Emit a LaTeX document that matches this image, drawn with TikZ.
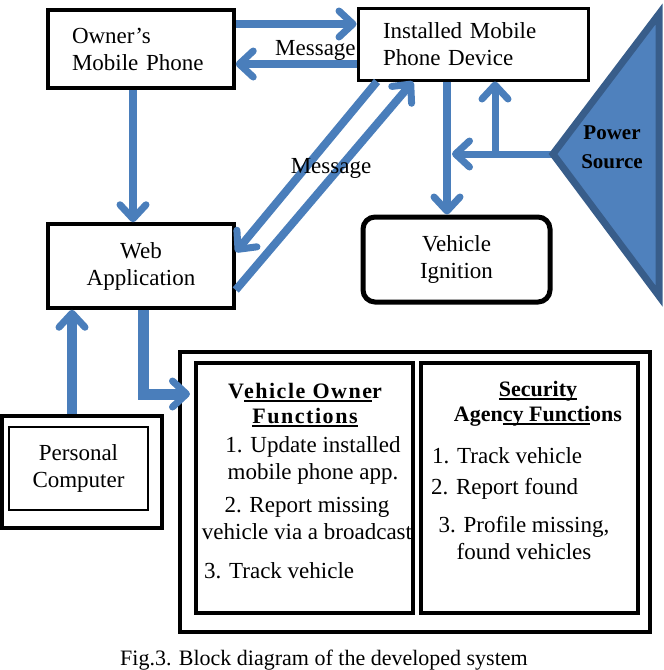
\documentclass[tikz,border=0pt]{standalone}
\usepackage{fontspec}
\setmainfont{Liberation Serif}
\usepackage{xcolor}
\usepackage{tikz}
\usetikzlibrary{arrows.meta}
\definecolor{arrblue}{HTML}{4A7EBB}
\definecolor{pwrfill}{HTML}{4F81BD}
\definecolor{pwrline}{HTML}{385D8A}
\newcommand\uln[1]{\setbox0\hbox{#1}\rlap{\rule[-3pt]{\wd0}{1.5pt}}\box0}

\begin{document}
\begin{tikzpicture}[x=1pt, y=-1pt, font=\fontsize{23}{27}\selectfont]
  \tikzstyle{blk}=[draw, line width=3.5pt, inner sep=0pt, align=center]
  \tikzstyle{lbl}=[inner sep=0pt, align=center]
  \tikzstyle{ttl}=[inner sep=0pt, align=center, font=\fontsize{22}{25}\selectfont\bfseries]
  \tikzstyle{arr}=[draw=arrblue, line width=8pt, -{Straight Barb[length=14pt,width=26pt,line width=7pt,round]}]
\useasboundingbox (0,0) rectangle (664,670);

% upper row
\node[blk, minimum width=186pt, minimum height=78pt, text width=138pt, align=left] (owner) at (141,49) {Owner’s\\Mobile Phone};
\node[blk, line width=3pt, minimum width=230pt, minimum height=72pt, text width=180pt, align=left] (inst) at (473,44) {Installed Mobile\\Phone Device};
\node[blk, minimum width=186pt, minimum height=84pt] (web) at (141,266) {Web\\Application};
\node[blk, line width=5pt, rounded corners=12pt, minimum width=187pt, minimum height=85pt] (ign) at (456.5,259.5) {Vehicle\\Ignition};

% power source
\coordinate (pwr) at (553,154);
\coordinate (jn) at (452,154);
\coordinate (br) at (495,154);
\draw[arr, line width=7pt] (pwr) -- (jn);
\draw[arr, line width=7pt] (br) -- (495,0 |- inst.south);
\filldraw[fill=pwrfill, draw=pwrline, line width=7pt] (pwr) -- (659,14) -- (659,296) -- cycle;
\node[ttl, font=\fontsize{21}{29}\selectfont\bfseries] (pwrtxt) at (612,147) {Power\\Source};

\draw[arr] (owner.east |- 0,24) -- (inst.west |- 0,24);
\draw[arr] (inst.west |- 0,64) -- node[lbl, pos=.34, above=0pt] (msga) {Message} (owner.east |- 0,64);
\draw[arr] (133,0 |- owner.south) -- (133,0 |- web.north);
\draw[arr] (377,0 |- inst.south) -- (web.east |- 0,252);
\draw[arr] (web.east |- 0,290) -- (413,0 |- inst.south);
\node[lbl] (msgb) at (331,168) {Message};
\draw[arr] (447,0 |- inst.south) -- (447,0 |- ign.north);

% lower row
\node[blk, line width=4pt, minimum width=470pt, minimum height=280pt] (fn) at (415,492) {};
\node[blk, line width=4pt, minimum width=217pt, minimum height=250pt] (vo) at (304.5,488) {};
\node[blk, line width=4pt, minimum width=217pt, minimum height=250pt] (sa) at (529.5,488) {};
\node[blk, line width=4.5pt, minimum width=160pt, minimum height=112pt] (pc) at (82,472) {};
\node[blk, line width=2.5pt, minimum width=139pt, minimum height=83pt] (pcin) at (78.5,468.5) {Personal\\Computer};

\draw[arr, line width=10pt] (72,0 |- pc.north) -- (72,0 |- web.south);
\draw[arr, line width=11pt, shorten >=4pt] (143,0 |- web.south) |- (vo.west |- 0,394);

\node[ttl] (vohead) at (305,405) {{\addfontfeatures{LetterSpace=7}V\uln{ehicle Owne}r}\\{\addfontfeatures{LetterSpace=7}\uln{Functions}}};
\node[lbl] (vo1) at (313,460) {1. Update installed\\mobile phone app.};
\node[lbl] (vo2) at (307,518) {2. Report missing\\vehicle via a broadcast};
\node[lbl, anchor=base west] (vo3) at (204,578) {3. Track vehicle};

\node[ttl] (sahead) at (538,404) {\uln{Security}\\Agen\uln{cy Functi}ons};
\node[lbl, anchor=base west] (sa1) at (432,463) {1. Track vehicle};
\node[lbl, anchor=base west] (sa2) at (431,494) {2. Report found};
\node[lbl] (sa3) at (524,538) {3. Profile missing,\\found vehicles};

\node[lbl, anchor=base, font=\fontsize{22}{26}\selectfont] (cap) at (324,665) {Fig.3. Block diagram of the developed system};
\end{tikzpicture}
\end{document}
